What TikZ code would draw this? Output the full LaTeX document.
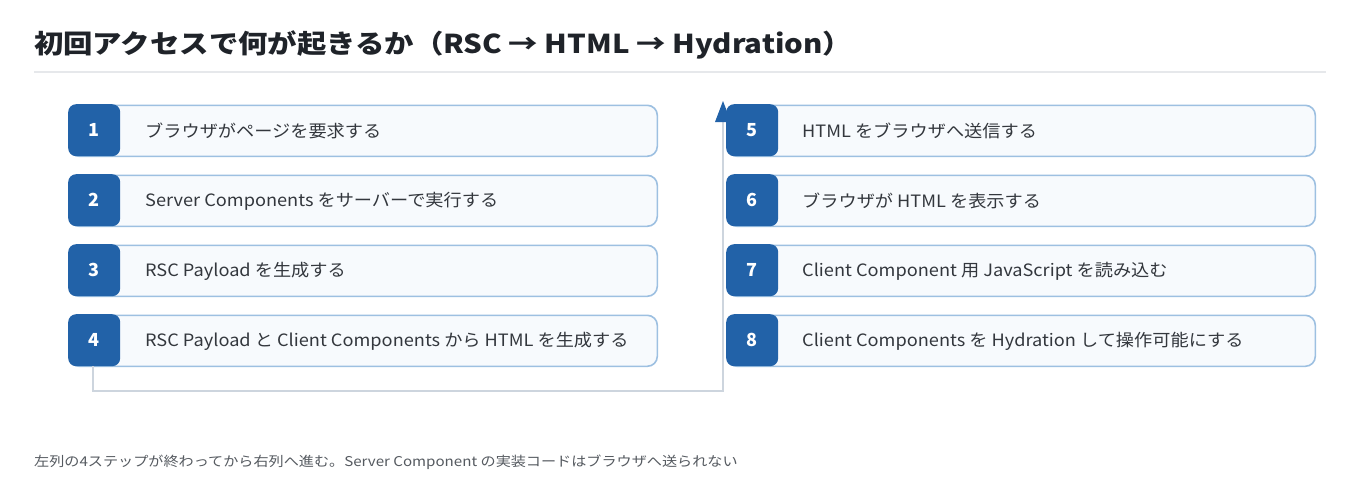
\documentclass[tikz,border=0pt]{standalone}
\usepackage{fontspec}
\setmainfont{Noto Sans CJK JP}
\newfontfamily\stepfont[FakeStretch=1.07]{Noto Sans CJK JP}
\newfontfamily\titlefont[FakeStretch=1.13]{Noto Sans CJK JP}
\newfontfamily\footfont[FakeStretch=1.12]{Noto Sans CJK JP}
\usetikzlibrary{arrows.meta}
\definecolor{badge}{HTML}{2262A8}
\definecolor{boxline}{HTML}{9DC0E1}
\definecolor{boxfill}{HTML}{F7FAFD}
\definecolor{conn}{HTML}{CDD5DE}
\definecolor{txt}{HTML}{33373D}
\definecolor{ttl}{HTML}{1F2329}
\definecolor{rule}{HTML}{E6E8EB}
\definecolor{foot}{HTML}{555A60}
\tikzset{
  stepbox/.style={draw=boxline, line width=1.6pt, fill=boxfill, rounded corners=10pt,
    minimum width=588pt, minimum height=51pt, inner sep=0pt, anchor=north west},
  badgebox/.style={fill=badge, rounded corners=8pt, minimum width=52pt, minimum height=52pt,
    inner sep=0pt, anchor=north west, text=white, font=\fontsize{18}{20}\selectfont\bfseries},
  steptext/.style={anchor=west, text=txt, font=\stepfont\fontsize{17}{20}\selectfont, inner sep=0pt},
  connector/.style={draw=conn, line width=1.6pt},
}
\begin{document}
\begin{tikzpicture}[x=1pt,y=-1pt]
\useasboundingbox[fill=white] (0,0) rectangle (1360,490);
\node[anchor=west, text=ttl, font=\titlefont\fontsize{26}{30}\selectfont\bfseries, inner sep=0pt] (title) at (34,45) {初回アクセスで何が起きるか（RSC → HTML → Hydration）};
\draw[draw=rule, line width=1.5pt] (34,72) -- (1326,72);
% connector (behind boxes)
\coordinate (c1) at (93,391);
\coordinate (c2) at (723,391);
\coordinate (c5) at (723,101);
% left column
\foreach \i/\t [count=\k from 0] in {1/ブラウザがページを要求する, 2/Server Components をサーバーで実行する, 3/RSC Payload を生成する, 4/RSC Payload と Client Components から HTML を生成する}{
  \node[stepbox] (box\i) at (68.5,{104.5+70*\k}) {};
  \node[badgebox] (num\i) at (68,{104+70*\k}) {\i};
  \node[steptext] (lab\i) at (145,{131+70*\k}) {\t};
}
% right column
\foreach \i/\t [count=\k from 0] in {5/HTML をブラウザへ送信する, 6/ブラウザが HTML を表示する, 7/Client Component 用 JavaScript を読み込む, 8/Client Components を Hydration して操作可能にする}{
  \node[stepbox] (box\i) at (726.5,{104.5+70*\k}) {};
  \node[steptext] (lab\i) at (802,{131+70*\k}) {\t};
}
\draw[connector] (num4.south -| c1) -- (c1) -- (c2) -- (723,122);
\fill[badge] (c5) -- (715,122) -- (731,122) -- cycle;
\foreach \i [count=\k from 0] in {5,6,7,8}{
  \node[badgebox] (num\i) at (726,{104+70*\k}) {\i};
}
\node[anchor=west, text=foot, font=\footfont\fontsize{13.5}{16}\selectfont, inner sep=0pt] (footer) at (34,462) {左列の4ステップが終わってから右列へ進む。Server Component の実装コードはブラウザへ送られない};
\end{tikzpicture}
\end{document}
